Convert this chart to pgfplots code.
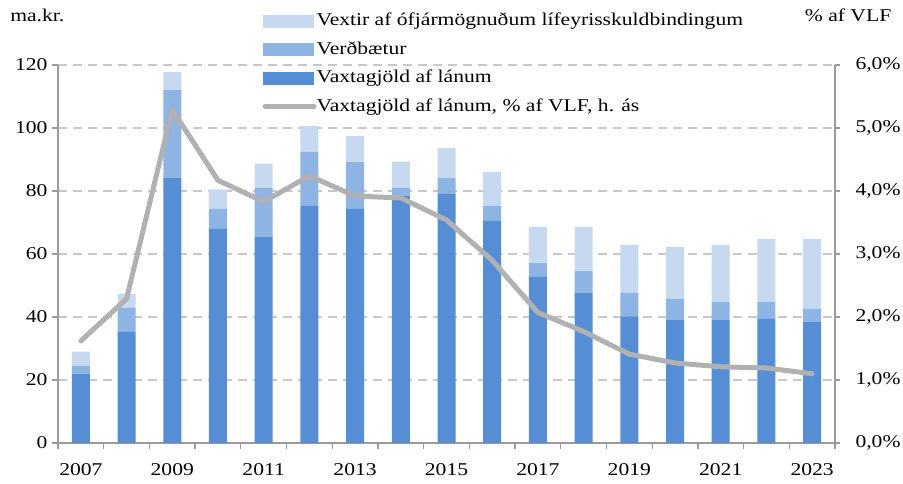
\documentclass[border=0pt]{standalone}
\usepackage{fontspec}
\setmainfont{Liberation Serif}[FakeStretch=1.2]
\usepackage{pgfplots}
\usepackage{pgfplotstable}
\pgfplotsset{compat=1.18}
\definecolor{cA}{HTML}{558ED5}
\definecolor{cB}{HTML}{8EB4E3}
\definecolor{cC}{HTML}{C6D9F1}
\definecolor{cL}{HTML}{B1B1B4}
\definecolor{gridc}{HTML}{C8C8C8}
\definecolor{axc}{HTML}{9A9A9A}
\pgfplotstableread{
x vax verd vext pct
0 22.0 2.5 4.5 1.62
1 35.3 7.6 4.4 2.29
2 84.1 27.9 5.7 5.29
3 68.0 6.3 6.2 4.17
4 65.5 15.5 7.7 3.83
5 75.3 17.1 8.2 4.24
6 74.3 14.9 8.3 3.92
7 78.5 2.5 8.3 3.89
8 79.1 5.0 9.6 3.54
9 70.5 4.8 10.8 2.90
10 52.7 4.4 11.5 2.07
11 47.7 6.9 14.0 1.77
12 40.2 7.5 15.2 1.41
13 39.0 6.8 16.5 1.27
14 39.0 5.7 18.2 1.21
15 39.6 5.1 20.1 1.19
16 38.4 4.2 22.2 1.10
}\data
\newcommand{\fs}{\fontsize{18}{21}\selectfont}
\begin{document}
\begin{tikzpicture}
\useasboundingbox (-58pt,-40pt) rectangle (845pt,443pt);
\begin{axis}[
  at={(0pt,0pt)}, anchor=south west,
  width=777pt, height=378pt, scale only axis,
  xmin=-0.5, xmax=16.5, ymin=0, ymax=120,
  ybar stacked, bar width=18pt,
  axis x line*=bottom, axis y line*=left,
  xtick={0,2,...,16},
  xticklabels={2007,2009,2011,2013,2015,2017,2019,2021,2023},
  major x tick style={draw=none},
  minor xtick={-0.5,0.5,...,16.5},
  ytick={0,20,...,120},
  ymajorgrids,
  grid style={gridc, line width=1.2pt, dash pattern=on 9pt off 6pt},
  tick align=outside, major tick length=6pt, minor tick length=6pt,
  axis line style={axc, line width=1.3pt},
  every tick/.style={axc, line width=1.3pt},
  tick label style={font=\fs},
  xticklabel style={yshift=-11pt},
  yticklabel style={xshift=-1pt},
  /pgf/number format/assume math mode=true,
]
\addplot[fill=cA, draw=none] table[x=x, y=vax] {\data};
\addplot[fill=cB, draw=none] table[x=x, y=verd] {\data};
\addplot[fill=cC, draw=none] table[x=x, y=vext] {\data};
\end{axis}
\begin{axis}[
  at={(0pt,0pt)}, anchor=south west,
  width=777pt, height=378pt, scale only axis,
  xmin=-0.5, xmax=16.5, ymin=0, ymax=6,
  axis x line=none, axis y line*=right,
  ytick={0,1,...,6},
  yticklabels={{0,0\%},{1,0\%},{2,0\%},{3,0\%},{4,0\%},{5,0\%},{6,0\%}},
  tick align=outside, major tick length=5pt,
  axis line style={axc, line width=1.3pt},
  every tick/.style={axc, line width=1.3pt},
  tick label style={font=\fs},
  yticklabel style={xshift=12pt},
  clip=false,
  legend style={at={(0.263,1.139)}, anchor=north west, draw=none, fill=none,
    font=\fs, inner sep=0pt, row sep=11.5pt, legend cell align=left,
    nodes={text height=13pt, text depth=4pt, inner sep=0pt},
    /tikz/every even column/.append style={column sep=6pt}},
]
\addlegendimage{legend image code/.code={\fill[cC] (0pt,-6pt) rectangle (50pt,6pt);}}
\addlegendentry{Vextir af ófjármögnuðum lífeyrisskuldbindingum}
\addlegendimage{legend image code/.code={\fill[cB] (0pt,-6pt) rectangle (50pt,6pt);}}
\addlegendentry{Verðbætur}
\addlegendimage{legend image code/.code={\fill[cA] (0pt,-6pt) rectangle (50pt,6pt);}}
\addlegendentry{Vaxtagjöld af lánum}
\addplot[cL, line width=5pt, line join=round, line cap=round, mark=none,
  legend image code/.code={\draw[cL, line width=5pt, line cap=round] (2pt,0pt) -- (51pt,0pt);}]
  table[x=x, y=pct] {\data};
\addlegendentry{Vaxtagjöld af lánum, \% af VLF, h. ás}
\node[font=\fs, anchor=west] at (rel axis cs:-0.066,1.132) {ma.kr.};
\node[font=\fs, anchor=east] at (rel axis cs:1.077,1.132) {\% af VLF};
\end{axis}
\end{tikzpicture}
\end{document}
